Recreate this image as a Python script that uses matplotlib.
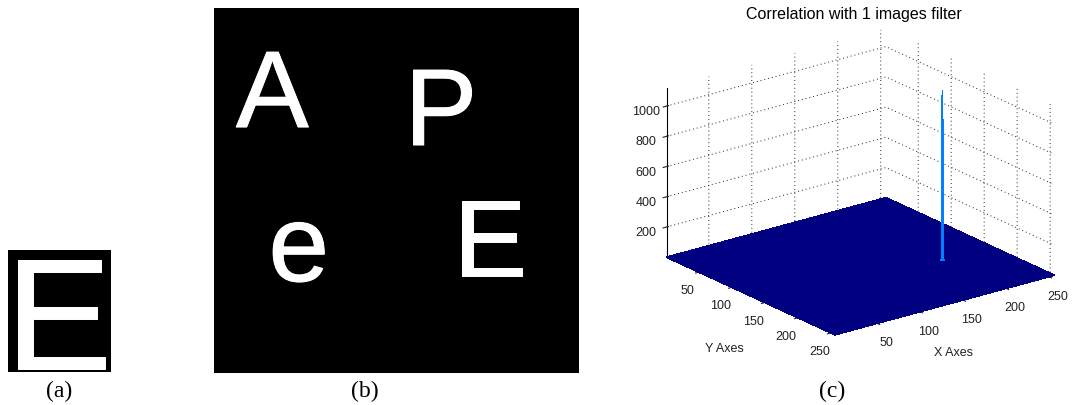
import numpy as np
import matplotlib
matplotlib.use("Agg")
import matplotlib.pyplot as plt
import matplotlib.patheffects as pe
from matplotlib.colors import Normalize

# ---------------- data ----------------
# (a) template letter
template_letter = "E"

# (b) scene letters: character, x (left), y (baseline) in 256x256 image units
scene_letters = ["A", "P", "e", "E"]
scene_x = [15.4, 133.7, 38.2, 168.0]
scene_y = [83.5, 96.1, 191.5, 188.0]
image_size = 256

# (c) correlation surface: one sharp peak where the template matches
peak_x = 199
peak_y = 161
peak_value = 1120
z_max = 1120

x_ticks = [50, 100, 150, 200, 250]
y_ticks = [50, 100, 150, 200, 250]
z_ticks = [200, 400, 600, 800, 1000]

panel_labels = ["(a)", "(b)", "(c)"]
title_text = "Correlation with 1 images filter"
x_label = "X Axes"
y_label = "Y Axes"

# ---------------- figure ----------------
W, H = 1079, 406
fig = plt.figure(figsize=(W / 100, H / 100), dpi=100)
fig.patch.set_facecolor("white")

def px_rect(x0, y0, x1, y1):
    return [x0 / W, 1 - y1 / H, (x1 - x0) / W, (y1 - y0) / H]

sans = "Liberation Sans"
serif = "Liberation Serif"
heavier = [pe.withStroke(linewidth=0.7, foreground="white")]

# (a) template image
ax_a = fig.add_axes(px_rect(8, 251, 111, 373))
ax_a.set_facecolor("black")
ax_a.set_xlim(0, 103)
ax_a.set_ylim(122, 0)
ax_a.set_xticks([]); ax_a.set_yticks([])
for s in ax_a.spines.values():
    s.set_visible(False)
ax_a.text(-2.6, 119, template_letter, color="white", fontsize=114.5,
          family=sans, ha="left", va="baseline", clip_on=True,
          path_effects=heavier)

# (b) scene image
ax_b = fig.add_axes(px_rect(214, 9, 579, 374))
ax_b.set_facecolor("black")
ax_b.set_xlim(0, image_size)
ax_b.set_ylim(image_size, 0)
ax_b.set_xticks([]); ax_b.set_yticks([])
for s in ax_b.spines.values():
    s.set_visible(False)
for ch, lx, ly in zip(scene_letters, scene_x, scene_y):
    ax_b.text(lx, ly, ch, color="white", fontsize=78.5, family=sans,
              ha="left", va="baseline", clip_on=True, path_effects=heavier)

# (c) correlation surface
corr = np.zeros((image_size, image_size))
corr[peak_y - 1, peak_x - 1] = peak_value
gx, gy = np.meshgrid(np.arange(1, image_size + 1), np.arange(1, image_size + 1))

# per-cell colour (mean of the four corners, as plot_surface does), used for
# the cell outlines so that the thin peak stays solid
cell_mean = (corr[:-1, :-1] + corr[1:, :-1] + corr[:-1, 1:] + corr[1:, 1:]) / 4
cell_colors = plt.get_cmap("jet")(Normalize(0, z_max)(cell_mean.ravel()))

S = 400
cx, cy = 855, 188
ax_c = fig.add_axes(px_rect(cx - S / 2, cy - S / 2, cx + S / 2, cy + S / 2),
                    projection="3d", proj_type="ortho")
ax_c.plot_surface(gx, gy, corr, cmap="jet", vmin=0, vmax=z_max,
                  rstride=1, cstride=1, linewidth=0.6, edgecolors=cell_colors,
                  antialiased=False)
ax_c.set_xlim(1, image_size)
ax_c.set_ylim(image_size, 1)
ax_c.set_zlim(0, z_max)
ax_c.set_box_aspect((1, 1, 0.655), zoom=1.045)
ax_c.view_init(elev=20.7, azim=-127.5)

ax_c.set_xticks(x_ticks)
ax_c.set_yticks(y_ticks)
ax_c.set_zticks(z_ticks)
for axis in (ax_c.xaxis, ax_c.yaxis, ax_c.zaxis):
    axis.set_pane_color((1, 1, 1, 0))
    axis.line.set_color("black")
    axis.line.set_linewidth(0.8)
    axis._axinfo["grid"].update(color="#222222", linewidth=0.7,
                                linestyle=(0, (1, 3)))
ax_c.tick_params(labelsize=9, colors="#222222", pad=0)
for lab in ax_c.get_xticklabels() + ax_c.get_yticklabels() + ax_c.get_zticklabels():
    lab.set_family(sans)
ax_c.grid(True)

# axis names below the floor, unrotated
fig.text(953 / W, 1 - 353.5 / H, x_label, fontsize=9, family=sans,
         color="#222222", ha="center", va="center")
fig.text(724.5 / W, 1 - 349 / H, y_label, fontsize=9, family=sans,
         color="#222222", ha="center", va="center")

fig.text(853.5 / W, 1 - 15 / H, title_text, fontsize=11.5, family=sans,
         ha="center", va="center", color="black")

# panel captions
for lab, lx in zip(panel_labels, [59, 365, 832]):
    fig.text(lx / W, 1 - 391 / H, lab, fontsize=17, family=serif,
             ha="center", va="center", color="black")

fig.savefig("out.png", dpi=100)
